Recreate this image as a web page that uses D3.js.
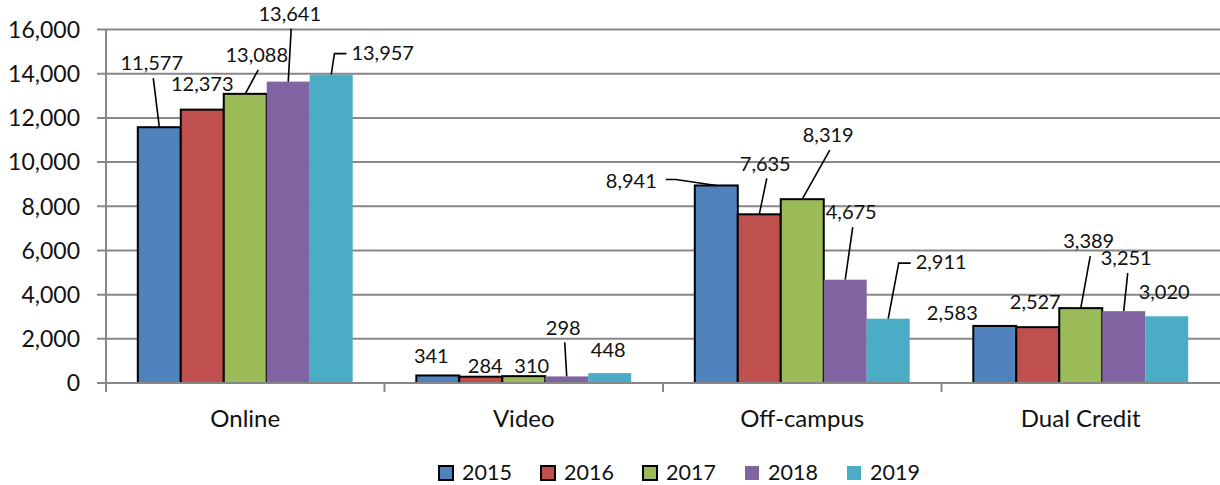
<!DOCTYPE html>
<html>
<head>
<meta charset="utf-8">
<script src="https://cdn.jsdelivr.net/npm/d3@7"></script>
<style>
  html, body { margin: 0; padding: 0; background: #fff; }
  svg { display: block; font-family: Lato, "Open Sans", sans-serif; }
</style>
</head>
<body>
<svg id="chart" width="1220" height="485"></svg>
<script>
// Enrolment by delivery mode, 2015–2019
const categories = ["Online", "Video", "Off-campus", "Dual Credit"];
const years = ["2015", "2016", "2017", "2018", "2019"];
const series2015 = [11577, 341, 8941, 2583];
const series2016 = [12373, 284, 7635, 2527];
const series2017 = [13088, 310, 8319, 3389];
const series2018 = [13641, 298, 4675, 3251];
const series2019 = [13957, 448, 2911, 3020];
const yTickValues = [0, 2000, 4000, 6000, 8000, 10000, 12000, 14000, 16000];

const seriesValues = [series2015, series2016, series2017, series2018, series2019];
const colors = ["#4F81BD", "#C0504D", "#9BBB59", "#8064A2", "#4BACC6"];
const outlined = [true, true, true, false, false];

// Label nudges (px from the bar-top centre) and leader style, per category then per year
const labelLayout = [
  [[-7.5, -64, "line"], [0, -26, null], [11.5, -39, "line"], [1.5, -68, "line"], [51.5, -22, "elbowL"]],
  [[-6.5, -19.5, null], [4.5, -11, null], [8, -10, null], [-3.5, -49, "line"], [-1.5, -23, null]],
  [[-85, -5, "elbowR"], [6, -51, "line"], [26, -64, "line"], [6, -67.6, "line"], [53, -56.6, "elbowL"]],
  [[-42.5, -13, null], [-2.5, -25, null], [8, -67, "line"], [2.5, -53, "line"], [-2.5, -24, null]]
];

const svg = d3.select("#chart");
const plotLeft = 106, plotRight = 1220, plotTop = 29.5, plotBottom = 383;

const x0 = d3.scaleBand().domain(categories).range([plotLeft, plotRight]).padding(0);
const x1 = d3.scaleBand().domain(years).range([0, x0.bandwidth()]).paddingInner(0).paddingOuter(0.74);
const y = d3.scaleLinear().domain([0, 16000]).range([plotBottom, plotTop]);

const fmt = d3.format(",");
const gridColor = "#878787";

// Horizontal gridlines, extended left of the axis as tick marks
svg.append("g").selectAll("line").data(yTickValues).join("line")
  .attr("x1", plotLeft - 9).attr("x2", plotRight)
  .attr("y1", d => y(d)).attr("y2", d => y(d))
  .attr("stroke", gridColor).attr("stroke-width", 2);

svg.append("g").selectAll("text").data(yTickValues).join("text")
  .attr("x", 80).attr("y", d => y(d)).attr("dy", "0.36em")
  .attr("text-anchor", "end").attr("font-size", 23).attr("fill", "#111")
  .text(d => fmt(d));

// Category axis: vertical axis line and band separators
svg.append("line").attr("x1", plotLeft).attr("x2", plotLeft).attr("y1", plotTop).attr("y2", plotBottom + 9)
  .attr("stroke", gridColor).attr("stroke-width", 2);
const bounds = categories.map(c => x0(c)).slice(1);
svg.append("g").selectAll("line").data(bounds).join("line")
  .attr("x1", d => d).attr("x2", d => d).attr("y1", plotBottom).attr("y2", plotBottom + 9)
  .attr("stroke", gridColor).attr("stroke-width", 2);

svg.append("g").selectAll("text").data(categories).join("text")
  .attr("x", d => x0(d) + x0.bandwidth() / 2).attr("y", 418).attr("dy", "0.36em")
  .attr("text-anchor", "middle").attr("font-size", 24).attr("fill", "#111")
  .text(d => d);

// Bars
const rows = [];
categories.forEach((c, ci) => {
  years.forEach((yr, si) => {
    rows.push({ c, ci, yr, si, v: seriesValues[si][ci] });
  });
});

svg.append("g").selectAll("rect").data(rows).join("rect")
  .attr("x", d => x0(d.c) + x1(d.yr))
  .attr("width", x1.bandwidth())
  .attr("y", d => y(d.v))
  .attr("height", d => y(0) - y(d.v))
  .attr("fill", d => colors[d.si])
  .attr("stroke", d => outlined[d.si] ? "#000" : "none")
  .attr("stroke-width", 2);

// Baseline drawn over the bars
svg.append("line").attr("x1", plotLeft - 9).attr("x2", plotRight).attr("y1", y(0)).attr("y2", y(0))
  .attr("stroke", gridColor).attr("stroke-width", 2);

// Data labels with leader lines
const labels = svg.append("g");
rows.forEach(d => {
  const [dx, dy, kind] = labelLayout[d.ci][d.si];
  const cx = x0(d.c) + x1(d.yr) + x1.bandwidth() / 2;
  const ty = y(d.v);
  const lx = cx + dx, ly = ty + dy;
  const t = labels.append("text")
    .attr("x", lx).attr("y", ly).attr("dy", "0.36em")
    .attr("text-anchor", "middle").attr("font-size", 20).attr("fill", "#111")
    .text(fmt(d.v));
  if (!kind) return;
  const bb = t.node().getBBox();
  let pts;
  if (kind === "line") {
    pts = [[lx + 1.5, ly + 15], [cx, ty]];
  } else if (kind === "elbowL") {
    const L = bb.x;
    pts = [[L - 5, ly + 1], [L - 17, ly + 1], [cx, ty]];
  } else {
    const R = bb.x + bb.width;
    pts = [[R + 9, ly - 1], [R + 19, ly - 1], [cx, ty]];
  }
  labels.append("path")
    .attr("d", d3.line()(pts))
    .attr("fill", "none").attr("stroke", "#000").attr("stroke-width", 1.6);
});

// Legend
const legend = svg.append("g");
years.forEach((yr, i) => {
  const gx = 439 + i * 102;
  const item = legend.append("g").attr("transform", `translate(${gx},466)`);
  item.append("rect").attr("width", 14).attr("height", 14)
    .attr("fill", colors[i])
    .attr("stroke", outlined[i] ? "#000" : "none").attr("stroke-width", 2);
  item.append("text").attr("x", 23).attr("y", 14)
    .attr("font-size", 21.5).attr("fill", "#111").text(yr);
});
</script>
</body>
</html>
